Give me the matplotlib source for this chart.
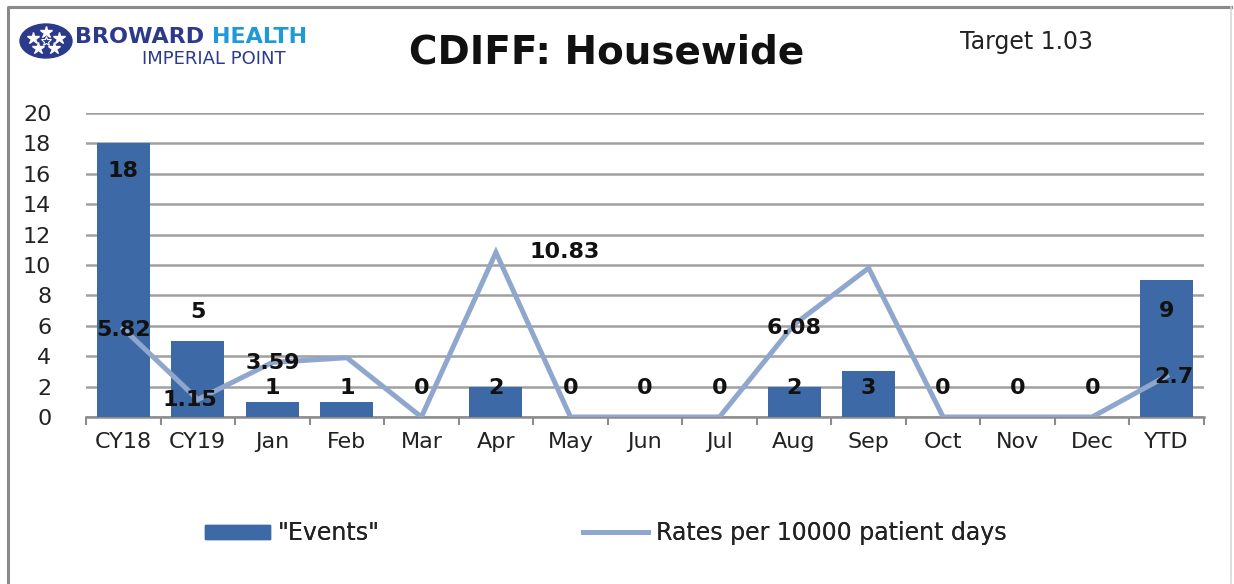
import matplotlib
matplotlib.use("Agg")
import matplotlib.pyplot as plt
from matplotlib.patches import Ellipse, Rectangle
from matplotlib.lines import Line2D
import numpy as np

categories = ["CY18", "CY19", "Jan", "Feb", "Mar", "Apr", "May", "Jun", "Jul",
              "Aug", "Sep", "Oct", "Nov", "Dec", "YTD"]
events = [18, 5, 1, 1, 0, 2, 0, 0, 0, 2, 3, 0, 0, 0, 9]
rates = [5.82, 1.15, 3.59, 3.9, 0, 10.83, 0, 0, 0, 6.08, 9.8, 0, 0, 0, 2.7]
rate_labels = ["5.82", "1.15", "3.59", "", "", "10.83", "", "", "", "6.08", "", "", "", "", "2.7"]
yticks = [0, 2, 4, 6, 8, 10, 12, 14, 16, 18, 20]
title = "CDIFF: Housewide"
target_text = "Target 1.03"
legend_labels = ['"Events"', "Rates per 10000 patient days"]

FONT = ["DejaVu Sans"]
plt.rcParams['font.family'] = FONT

BAR = "#3d6aa7"
LINE = "#8fa6cd"
GRID = "#a0a0a0"

W, H = 1234, 584
fig = plt.figure(figsize=(W / 100, H / 100), dpi=100)
fig.patch.set_facecolor("white")

def fx(px):
    return px / W

def fy(py):
    return 1 - py / H

# axes
left, right, y0, y20 = 86, 1204, 417, 113
ax = fig.add_axes([fx(left), fy(y0), fx(right - left), (y0 - y20) / H])
x = np.arange(len(categories))
ax.bar(x, events, width=0.71, color=BAR, zorder=2)
ax.plot(x, rates, color=LINE, lw=3.6, zorder=3, solid_joinstyle="miter")
ax.set_xlim(-0.5, len(categories) - 0.5)
ax.set_ylim(0, 20)
ax.set_yticks(yticks)
ax.set_yticklabels([str(v) for v in yticks], fontsize=16, color="#222222")
ax.yaxis.grid(True, color=GRID, lw=1.8, zorder=0)
ax.set_axisbelow(True)
for s in ["left", "right", "top"]:
    ax.spines[s].set_visible(False)
ax.spines["bottom"].set_color("#8c8c8c")
ax.spines["bottom"].set_linewidth(1.8)
ax.spines["bottom"].set_zorder(1)
ax.tick_params(axis="y", length=0, pad=25)
ax.set_xticks(x)
ax.set_xticklabels(categories, fontsize=16, color="#222222")
ax.tick_params(axis="x", length=0, pad=11)
# boundary ticks on x axis
ax.set_xticks(np.arange(-0.5, len(categories)), minor=True)
ax.tick_params(axis="x", which="minor", length=6, width=1.5, color="#8c8c8c", direction="out")

# bar labels
bar_label_offsets = [-1.8, 1.9, 0.9, 0.9, 1.9, -0.1, 1.9, 1.9, 1.9, -0.1, -1.1, 1.9, 1.9, 1.9, -2.0]
for i, v in enumerate(events):
    ax.text(x[i], v + bar_label_offsets[i], str(v), ha="center", va="center",
            fontsize=16, fontweight="bold", color="#111111", zorder=5)

# line labels
rate_label_dx = [0, -0.1, 0, 0, 0, 0.92, 0, 0, 0, 0, 0, 0, 0, 0, 0.1]
rate_label_dy = [-0.1, -0.05, -0.05, 0, 0, 0, 0, 0, 0, -0.2, 0, 0, 0, 0, -0.1]
for i, lab in enumerate(rate_labels):
    if lab:
        ax.text(x[i] + rate_label_dx[i], rates[i] + rate_label_dy[i], lab,
                ha="center", va="center", fontsize=16, fontweight="bold",
                color="#111111", zorder=6)

# title and target
fig.text(fx(607), fy(53), title, ha="center", va="center", fontsize=28,
         fontweight="bold", color="#111111")
fig.text(fx(1027), fy(42), target_text, ha="center", va="center", fontsize=17,
         color="#222222")

# logo
NAVY = "#2c3a8c"
CYAN = "#1e9ad8"
logo = fig.add_axes([0, 0, 1, 1], zorder=-1)
logo.set_xlim(0, W)
logo.set_ylim(H, 0)
logo.axis("off")
logo.add_patch(Ellipse((46, 41), 52, 34, color=NAVY))
for ang in np.arange(90, 450, 72):
    logo.plot(46 + 14 * np.cos(np.radians(ang)), 41 - 9 * np.sin(np.radians(ang)),
              marker="*", ms=9, color="white", mec="white")
logo.plot(46, 41, marker="*", ms=7, color=NAVY, mec="white", mew=0.8)
# border
logo.plot([8, 8, 1231], [583, 7, 7], color="#8a8a8a", lw=2.2)
logo.plot([1231, 1231], [7, 583], color="#d8d8d8", lw=1.2)

fig.text(fx(75), fy(37), "BROWARD", ha="left", va="center", fontsize=16,
         fontweight="bold", color=NAVY)
fig.text(fx(212), fy(37), "HEALTH", ha="left", va="center", fontsize=16,
         fontweight="bold", color=CYAN)
fig.text(fx(214), fy(59), "IMPERIAL POINT", ha="center", va="center", fontsize=13,
         color=NAVY)

# legend (two entries, placed like the reference)
handles = [Rectangle((0, 0), 1, 1, color=BAR),
           Line2D([0], [0], color=LINE, lw=3.6)]
starts = [205, 583]
for h, lab, sx in zip(handles, legend_labels, starts):
    leg = fig.legend([h], [lab], loc="center left", bbox_to_anchor=(fx(sx), fy(533)),
                     frameon=False, fontsize=17, handlelength=2.75,
                     handleheight=0.55, handletextpad=0.35, borderpad=0,
                     borderaxespad=0)
    for t in leg.get_texts():
        t.set_color("#222222")
    fig.add_artist(leg)

fig.savefig("out.png", dpi=100)
